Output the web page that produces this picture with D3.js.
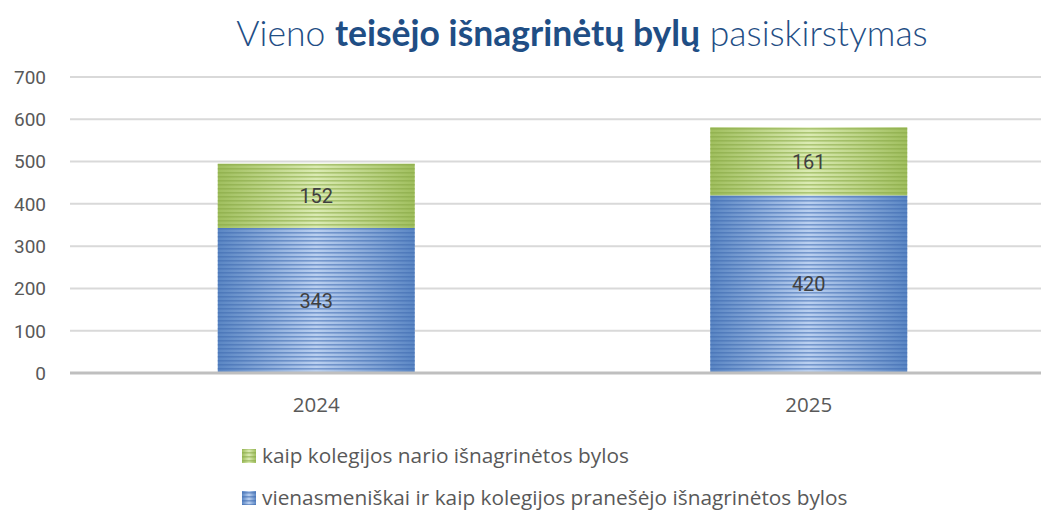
<!DOCTYPE html>
<html lang="lt">
<head>
  <meta charset="UTF-8" />
  <title>Vieno teisėjo išnagrinėtų bylų pasiskirstymas</title>
  <script src="https://cdn.jsdelivr.net/npm/d3@7"></script>
  <style>
    html, body { margin: 0; padding: 0; background: #fff; overflow: hidden; }
    svg { display: block; }
  </style>
</head>
<body>
  <script>
    // Data
    const years = ["2024", "2025"];
    const pranesejo = [343, 420];   // vienasmeniškai ir kaip kolegijos pranešėjo
    const nario = [152, 161];       // kaip kolegijos nario
    const yTicks = [0, 100, 200, 300, 400, 500, 600, 700];
    const seriesNames = [
      "kaip kolegijos nario išnagrinėtos bylos",
      "vienasmeniškai ir kaip kolegijos pranešėjo išnagrinėtos bylos"
    ];

    const width = 1041, height = 510;
    const margin = { left: 70, right: -14, top: 77, bottom: 137 };

    const svg = d3.select("body").append("svg")
      .attr("width", width)
      .attr("height", height);

    const x = d3.scaleBand()
      .domain(years)
      .range([margin.left, width - margin.right])
      .paddingInner(0.6)
      .paddingOuter(0.3);

    const y = d3.scaleLinear()
      .domain([0, 700])
      .range([height - margin.bottom, margin.top]);

    // gradient + stripe fills
    const defs = svg.append("defs");
    function makeFill(id, edge, mid, line) {
      const g = defs.append("linearGradient")
        .attr("id", id + "-grad")
        .attr("x1", "0%").attr("x2", "100%").attr("y1", "0%").attr("y2", "0%");
      g.append("stop").attr("offset", "0%").attr("stop-color", edge);
      g.append("stop").attr("offset", "50%").attr("stop-color", mid);
      g.append("stop").attr("offset", "100%").attr("stop-color", edge);

      const p = defs.append("pattern")
        .attr("id", id + "-lines")
        .attr("patternUnits", "userSpaceOnUse")
        .attr("width", 8).attr("height", 4);
      p.append("rect").attr("width", 8).attr("height", 1.6)
        .attr("fill", line).attr("opacity", 0.55);
    }
    makeFill("blue", "#5a86c4", "#bad0f0", "#3f6cb0");
    makeFill("green", "#a0bf5e", "#dbebb3", "#86a843");

    // gridlines
    svg.append("g")
      .selectAll("line")
      .data(yTicks.filter(d => d > 0))
      .join("line")
        .attr("x1", margin.left)
        .attr("x2", width)
        .attr("y1", d => y(d))
        .attr("y2", d => y(d))
        .attr("stroke", "#d9d9d9")
        .attr("stroke-width", 2);

    // y tick labels
    svg.append("g")
      .selectAll("text")
      .data(yTicks)
      .join("text")
        .attr("x", 46)
        .attr("y", d => y(d))
        .attr("dy", "0.36em")
        .attr("text-anchor", "end")
        .attr("font-family", "Roboto, sans-serif")
        .attr("font-size", 19)
        .attr("fill", "#595959")
        .text(d => d);

    const stacked = years.map((yr, i) => ({
      year: yr,
      segs: [
        { key: "blue", v0: 0, v1: pranesejo[i], val: pranesejo[i] },
        { key: "green", v0: pranesejo[i], v1: pranesejo[i] + nario[i], val: nario[i] }
      ]
    }));

    const barG = svg.append("g");
    stacked.forEach(d => {
      d.segs.forEach(s => {
        const rx = x(d.year), rw = x.bandwidth();
        const ry = y(s.v1), rh = y(s.v0) - y(s.v1);
        barG.append("rect")
          .attr("x", rx).attr("y", ry).attr("width", rw).attr("height", rh)
          .attr("fill", `url(#${s.key}-grad)`);
        barG.append("rect")
          .attr("x", rx).attr("y", ry).attr("width", rw).attr("height", rh)
          .attr("fill", `url(#${s.key}-lines)`);
        barG.append("text")
          .attr("x", rx + rw / 2)
          .attr("y", y((s.v0 + s.v1) / 2))
          .attr("dy", "0.36em")
          .attr("text-anchor", "middle")
          .attr("font-family", "Roboto, sans-serif")
          .attr("font-size", 20)
          .attr("fill", "#404040")
          .text(s.val);
      });
    });

    // zero axis line
    svg.append("line")
      .attr("x1", margin.left).attr("x2", width)
      .attr("y1", y(0)).attr("y2", y(0))
      .attr("stroke", "#bfbfbf")
      .attr("stroke-width", 3);

    // category labels
    svg.append("g")
      .selectAll("text")
      .data(years)
      .join("text")
        .attr("x", d => x(d) + x.bandwidth() / 2)
        .attr("y", 412)
        .attr("text-anchor", "middle")
        .attr("font-family", "'Open Sans', sans-serif")
        .attr("font-size", 20.5)
        .attr("fill", "#595959")
        .text(d => d);

    // title
    const title = svg.append("text")
      .attr("x", 582)
      .attr("y", 46)
      .attr("text-anchor", "middle")
      .attr("font-family", "Lato, sans-serif")
      .attr("font-size", 35.5)
      .attr("fill", "#1f4e85");
    title.append("tspan").attr("font-weight", 300).text("Vieno ");
    title.append("tspan").attr("font-weight", 700).text("teisėjo išnagrinėtų bylų");
    title.append("tspan").attr("font-weight", 300).text(" pasiskirstymas");

    // legend
    const legendKeys = ["green", "blue"];
    const legend = svg.append("g");
    seriesNames.forEach((name, i) => {
      const ly = 456 + i * 42;
      legend.append("rect")
        .attr("x", 242).attr("y", ly - 7).attr("width", 14).attr("height", 14)
        .attr("fill", `url(#${legendKeys[i]}-grad)`);
      legend.append("rect")
        .attr("x", 242).attr("y", ly - 7).attr("width", 14).attr("height", 14)
        .attr("fill", `url(#${legendKeys[i]}-lines)`);
      legend.append("text")
        .attr("x", 262)
        .attr("y", ly)
        .attr("dy", "0.36em")
        .attr("font-family", "'Open Sans', sans-serif")
        .attr("font-size", 20.8)
        .attr("fill", "#595959")
        .text(name);
    });
  </script>
</body>
</html>
